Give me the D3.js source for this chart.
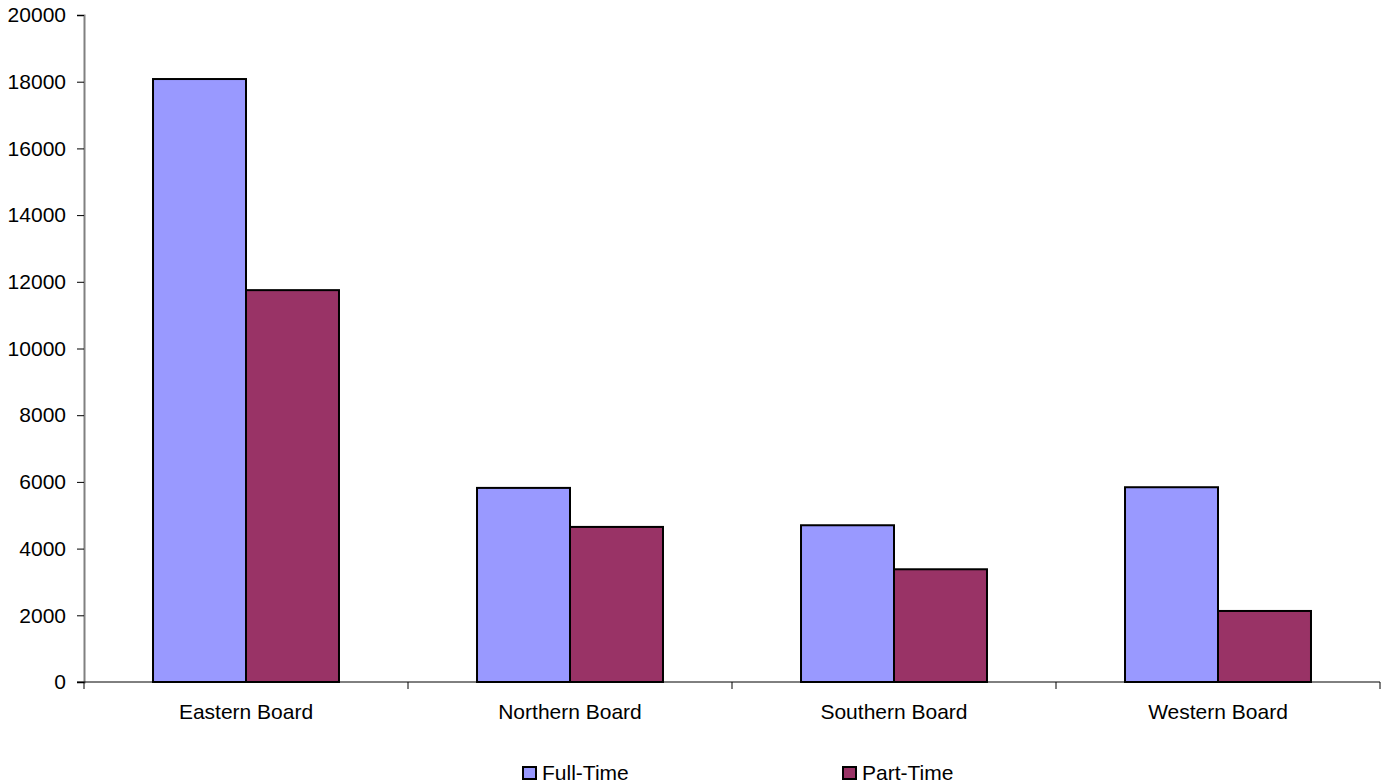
<!DOCTYPE html>
<html>
<head>
<meta charset="utf-8">
<script src="https://cdn.jsdelivr.net/npm/d3@7"></script>
<style>
  body { margin: 0; background: #fff; }
  text { font-family: "Liberation Sans", Arial, sans-serif; fill: #000; }
</style>
</head>
<body>
<div id="chart"></div>
<script>
// data
const categories = ["Eastern Board", "Northern Board", "Southern Board", "Western Board"];
const seriesNames = ["Full-Time", "Part-Time"];
const fullTime = [18080, 5820, 4700, 5840];
const partTime = [11750, 4650, 3380, 2130];
const yTicks = [0, 2000, 4000, 6000, 8000, 10000, 12000, 14000, 16000, 18000, 20000];
const colors = ["#9999ff", "#993366"];

const svgWidth = 1389;
const svgHeight = 784;
const margin = { top: 15, bottom: 102, left: 84, right: 9 };
const width = svgWidth - margin.left - margin.right;
const height = svgHeight - margin.top - margin.bottom;

const rows = categories.map((c, i) => ({ cat: c, values: [fullTime[i], partTime[i]] }));

const svg = d3.select("#chart")
  .append("svg")
  .attr("width", svgWidth)
  .attr("height", svgHeight)
  .append("g")
  .attr("transform", `translate(${margin.left},${margin.top})`);

const XScale = d3.scaleBand(categories, [0, width]).padding(0);
const bw = XScale.bandwidth();
const XInner = d3.scaleBand(seriesNames, [bw * 0.213, bw * 0.787]).padding(0);
const YScale = d3.scaleLinear([0, 20000], [height, 0]);

// bars
const groups = svg.selectAll(".grp")
  .data(rows)
  .enter()
  .append("g")
  .attr("class", "grp")
  .attr("transform", d => `translate(${XScale(d.cat)},0)`);

groups.selectAll("rect")
  .data(d => d.values.map((v, i) => ({ s: seriesNames[i], v: v, i: i })))
  .enter()
  .append("rect")
  .attr("x", d => XInner(d.s))
  .attr("y", d => YScale(d.v))
  .attr("width", XInner.bandwidth())
  .attr("height", d => height - YScale(d.v))
  .attr("fill", d => colors[d.i])
  .attr("stroke", "#000")
  .attr("stroke-width", 2);

// y axis
const yAxis = svg.append("g")
  .call(d3.axisLeft(YScale).tickValues(yTicks).tickSize(7).tickPadding(11).tickFormat(d3.format("d")));
yAxis.select(".domain").attr("stroke", "#808080").attr("stroke-width", 2);
yAxis.selectAll(".tick line").attr("stroke", "#000");
yAxis.selectAll("text").style("font-size", "21px");

// x axis
const xAxisG = svg.append("g").attr("transform", `translate(0,${height})`);
xAxisG.append("line")
  .attr("x1", -7).attr("x2", width)
  .attr("stroke", "#000").attr("stroke-width", 1);
xAxisG.selectAll(".xt")
  .data(categories.concat(["end"]))
  .enter()
  .append("line")
  .attr("x1", (d, i) => i * bw).attr("x2", (d, i) => i * bw)
  .attr("y1", 0).attr("y2", 7)
  .attr("stroke", "#000");
xAxisG.selectAll(".xl")
  .data(categories)
  .enter()
  .append("text")
  .attr("x", d => XScale(d) + bw / 2)
  .attr("y", 37)
  .attr("text-anchor", "middle")
  .style("font-size", "21px")
  .text(d => d);

// legend
const legendX = [523, 843];
const legend = d3.select("svg").selectAll(".leg")
  .data(seriesNames)
  .enter()
  .append("g")
  .attr("transform", (d, i) => `translate(${legendX[i]},767)`);
legend.append("rect")
  .attr("width", 13).attr("height", 12)
  .attr("fill", (d, i) => colors[i])
  .attr("stroke", "#000").attr("stroke-width", 2);
legend.append("text")
  .attr("x", 19).attr("y", 12.5)
  .style("font-size", "21px")
  .text(d => d);
</script>
</body>
</html>
